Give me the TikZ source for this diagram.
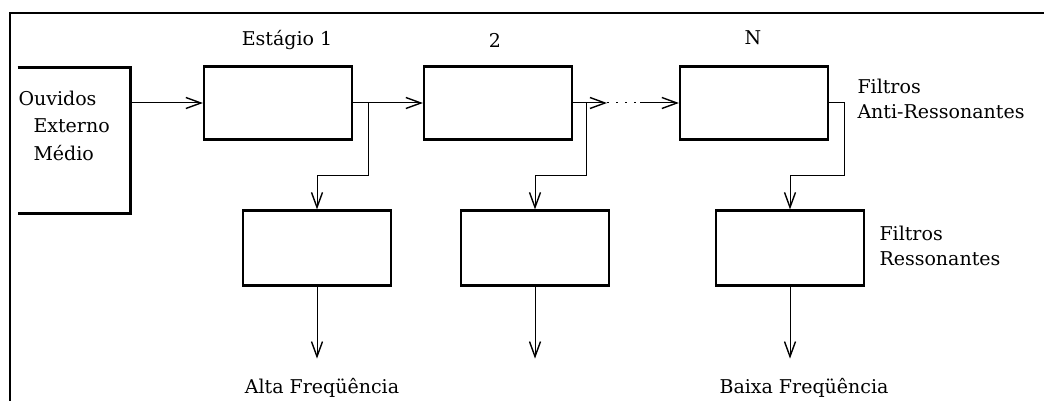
\documentclass[tikz,border=0pt]{standalone}
\usepackage{fontspec}
\setmainfont{DejaVu Serif}
\usetikzlibrary{arrows.meta}
\usetikzlibrary{calc}

\begin{document}
\begin{tikzpicture}[x=0.5pt,y=-0.5pt,line width=0.5pt,
    >={Straight Barb[length=7.5pt,width=5.5pt,line width=0.7pt]},
    font=\fontsize{9.5}{12.5}\selectfont,
    stage/.style={draw,line width=1.1pt,minimum width=74pt,minimum height=36.5pt,inner sep=0pt},
    filt/.style={draw,line width=1.1pt,minimum width=74pt,minimum height=37.5pt,inner sep=0pt},
    txt/.style={inner sep=0pt}]

  \useasboundingbox (0,0) rectangle (1044,401);

  % outer frame (open to the right and below)
  \draw[line width=0.75pt] (10,401) -- (10,13) -- (1044,13);

  % outer and middle ear block, open on its left side
  \node[inner sep=0pt,minimum width=56pt,minimum height=72.5pt] (ear) at (74,140.5) {};
  \draw[line width=1.1pt] (ear.north west) -- (ear.north east)
    -- (ear.south east) -- (ear.south west);
  \node[txt,anchor=base west] (ouv) at (18,106) {Ouvidos};
  \node[txt,anchor=base west] (ext) at (33,133) {Externo};
  \node[txt,anchor=base west] (med) at (33,161) {Médio};

  % anti-resonant stages
  \node[stage] (s1) at (278,103) {};
  \node[stage] (s2) at (498,103) {};
  \node[stage] (sN) at (754,103) {};
  \node[txt] (l1) at (287,40) {Estágio 1};
  \node[txt] (l2) at (495,40) {2};
  \node[txt] (lN) at (753,38) {N};
  \node[txt,anchor=north west,align=left] (anti) at (857,79) {Filtros\\Anti-Ressonantes};

  % resonant filters
  \node[filt] (r1) at (317,248) {};
  \node[filt] (r2) at (535,248) {};
  \node[filt] (r3) at (790,248) {};
  \node[txt,anchor=north west,align=left] (res) at (879,226) {Filtros\\Ressonantes};

  % taps on the main line
  \coordinate (t1) at (368,103);
  \coordinate (t2) at (586,103);
  \coordinate (d1) at (607,103);
  \coordinate (d2) at (640,103);

  % main line
  \draw[->] (ear.east |- s1.west) -- (s1.west);
  \draw[->] (s1.east) -- (s2.west);
  \draw[->] (s2.east) -- (d1);
  \draw[dash pattern=on 1pt off 3.5pt] (d1) -- (d2);
  \draw[->] (d2) -- (sN.west);

  % branches down to the resonant filters
  \draw[->] (t1) -- ++(0,72) -| (r1.north);
  \draw[->] (t2) -- ++(0,72) -| (r2.north);
  \draw[->] (sN.east) -- ++(15,0) -- ++(0,72) -| (r3.north);

  % outputs
  \draw[->] (r1.south) -- ++(0,72) coordinate (o1);
  \draw[->] (r2.south) -- ++(0,72) coordinate (o2);
  \draw[->] (r3.south) -- ++(0,72) coordinate (o3);
  \node[txt] (alta) at (322,388) {Alta Freqüência};
  \node[txt] (baixa) at (804,388) {Baixa Freqüência};

\end{tikzpicture}
\end{document}
